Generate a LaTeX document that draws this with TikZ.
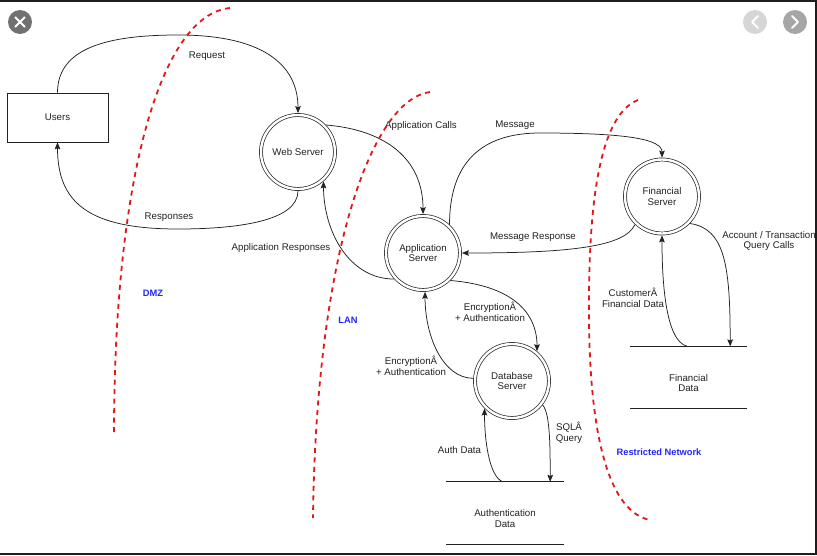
\documentclass[tikz,border=0pt]{standalone}
\usepackage{fontspec}
\setmainfont{Liberation Sans}
\usetikzlibrary{arrows.meta,calc}
\definecolor{ink}{HTML}{222222}
\definecolor{zone}{HTML}{E01818}
\definecolor{zonelbl}{HTML}{2424FF}
\definecolor{framec}{HTML}{1E1E1E}
\definecolor{btnclose}{HTML}{717171}
\definecolor{btnprev}{HTML}{D6D6D6}
\definecolor{btnnext}{HTML}{A6A6A6}
\tikzset{
  lbl/.style={font=\fontsize{9.7}{10.8}\selectfont, text=ink, align=center, inner sep=0pt},
  txt/.style={lbl, yshift=-1.5pt},
  proc/.style={circle, draw=ink, line width=0.7pt, double=white, double distance=2.4pt,
    minimum size=74pt, inner sep=0pt, outer sep=1.9pt, lbl},
  ent/.style={rectangle, draw=ink, line width=0.7pt, minimum width=101pt, minimum height=49pt, lbl},
  store/.style={minimum width=117pt, minimum height=62pt, inner sep=0pt},
  storeline/.style={draw=ink, line width=0.7pt},
  flow/.style={draw=ink, line width=0.75pt, -{Stealth[length=7pt,width=5.6pt,inset=1.2pt]}},
  zoneline/.style={draw=zone, line width=1.8pt, dash pattern=on 5pt off 4.5pt},
  zonetxt/.style={font=\fontsize{9.3}{11}\selectfont\bfseries, text=zonelbl, inner sep=0pt, yshift=-1pt},
  uibtn/.style={circle, minimum size=24pt, inner sep=0pt},
}
\begin{document}
\begin{tikzpicture}[x=1pt,y=-1pt]
\useasboundingbox (0,0) rectangle (817,555);
\fill[white] (0,0) rectangle (817,555);

% nodes
\node[ent] (users) at (57.5,117.5) {Users};
\node[proc] (ws) at (298,152) {Web Server};
\node[proc] (app) at (423,253) {Application\\Server};
\node[proc] (fs) at (662,196.5) {Financial\\Server};
\node[proc] (db) at (512,381) {Database\\Server};

\node[store] (authd) at (505,513) {};
\node[store] (find) at (688.5,377.5) {};
\draw[storeline] (authd.north west) -- (authd.north east);
\draw[storeline] (authd.south west) -- (authd.south east);
\draw[storeline] (find.north west) -- (find.north east);
\draw[storeline] (find.south west) -- (find.south east);
\node[lbl, yshift=-5.5pt] (authdtxt) at (authd.center) {Authentication\\Data};
\node[lbl, yshift=-5.5pt] (findtxt) at (find.center) {Financial\\Data};

\coordinate (authA) at ($(authd.north west)!0.48!(authd.north east)$);
\coordinate (authB) at ($(authd.north west)!0.885!(authd.north east)$);
\coordinate (finA) at ($(find.north west)!0.49!(find.north east)$);
\coordinate (finB) at ($(find.north west)!0.855!(find.north east)$);

% flows
\draw[flow] (users.north) .. controls +(0,-45) and +(-70,0) .. (178,35)
  .. controls +(90,0) and +(0,-45) .. (ws.north);
\draw[flow] (ws.south) .. controls +(0,30) and +(60,0) .. (178,229)
  .. controls +(-90,0) and +(0,60) .. (users.south);
\draw[flow] (ws.44) .. controls +(60,5) and +(0,-55) .. (app.north);
\draw[flow] (app.222) .. controls +(-45,0) and +(0,50) .. (ws.-49);
\draw[flow] (app.47) .. controls +(0,-70) and +(-50,0) .. (540,133)
  .. controls +(90,0) and +(0,-18) .. (fs.north);
\draw[flow] (fs.226) .. controls +(-10,22) and +(110,0) .. (app.east);
\draw[flow] (fs.-44) .. controls +(35,5) and +(0,-80) .. (finB);
\draw[flow] (finA) .. controls +(-22,-5) and +(0,45) .. (fs.south);
\draw[flow] (app.-45) .. controls +(60,5) and +(0,-40) .. (db.50);
\draw[flow] (db.176) .. controls +(-30,0) and +(0,45) .. (app.-87);
\draw[flow] (authA) .. controls +(-14,-6) and +(0,30) .. (db.225);
\draw[flow] (db.-38) .. controls +(7,8) and +(0,-40) .. (authB);

% flow labels
\node[txt] (lreq) at (207,55) {Request};
\node[txt] (lresp) at (169,216) {Responses};
\node[txt] (lcalls) at (421,124) {Application Calls};
\node[txt] (lmsg) at (515,124) {Message};
\node[txt] (lappresp) at (281,246) {Application Responses};
\node[txt] (lmsgresp) at (533,236) {Message Response};
\node[txt] (lacct) at (769,239.5) {Account / Transaction\\Query Calls};
\node[txt] (lcust) at (633,296) {CustomerÂ\\Financial Data};
\node[txt] (lenc1) at (490,310) {EncryptionÂ\\+ Authentication};
\node[txt] (lenc2) at (411,364) {EncryptionÂ\\+ Authentication};
\node[txt] (lauth) at (459.5,449) {Auth Data};
\node[txt] (lsql) at (569,431.5) {SQLÂ\\Query};

% zone boundaries
\draw[zoneline] (230,8) .. controls (160,15) and (114,180) .. (114,435);
\draw[zoneline] (430,92) .. controls (370,100) and (316,260) .. (313,518);
\draw[zoneline] (638,100) .. controls (600,115) and (588,200) .. (589,320)
  .. controls (590,440) and (610,512) .. (650,520);
\node[zonetxt] (dmz) at (153,292) {DMZ};
\node[zonetxt] (lan) at (348,319) {LAN};
\node[zonetxt] (rnet) at (659,451) {Restricted Network};

% viewer buttons
\node[uibtn, fill=btnclose] (closebtn) at (20,22) {};
\draw[white, line width=2pt] (15,17) -- (25,27) (15,27) -- (25,17);
\node[uibtn, fill=btnprev] (prevbtn) at (755,22) {};
\draw[white, line width=2pt, line cap=round, line join=round] (758,16) -- (752,22) -- (758,28);
\node[uibtn, fill=btnnext] (nextbtn) at (795,22) {};
\draw[white, line width=2pt, line cap=round, line join=round] (792,16) -- (798,22) -- (792,28);

% screen frame
\fill[framec] (0,0) rectangle (817,2);
\fill[framec] (815,0) rectangle (817,555);
\fill[framec] (0,553) rectangle (817,555);
\end{tikzpicture}
\end{document}
